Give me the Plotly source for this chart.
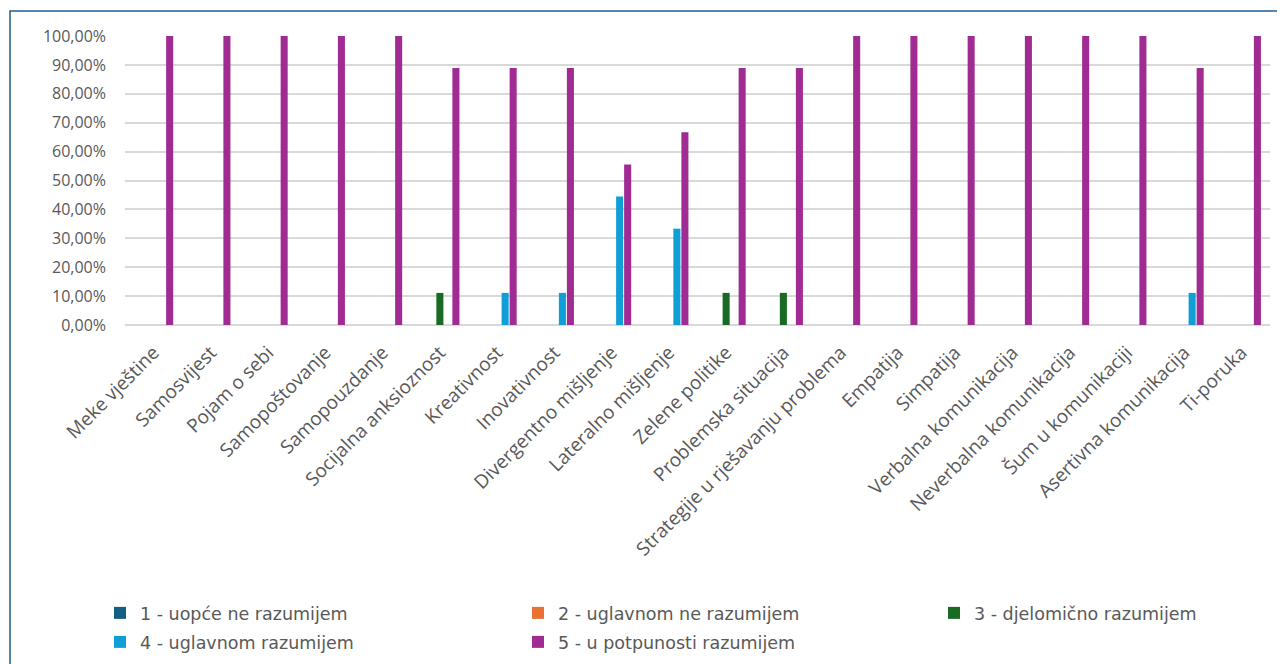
import plotly.graph_objects as go

categories = ["Meke vještine", "Samosvijest", "Pojam o sebi", "Samopoštovanje", "Samopouzdanje",
              "Socijalna anksioznost", "Kreativnost", "Inovativnost", "Divergentno mišljenje",
              "Lateralno mišljenje", "Zelene politike", "Problemska situacija",
              "Strategije u rješavanju problema", "Empatija", "Simpatija", "Verbalna komunikacija",
              "Neverbalna komunikacija", "Šum u komunikaciji", "Asertivna komunikacija", "Ti-poruka"]

series_names = ["1 - uopće ne razumijem", "2 - uglavnom ne razumijem", "3 - djelomično razumijem",
                "4 - uglavnom razumijem", "5 - u potpunosti razumijem"]

s1 = [0]*20
s2 = [0]*20
s3 = [0, 0, 0, 0, 0, 0.1111, 0, 0, 0, 0, 0.1111, 0.1111, 0, 0, 0, 0, 0, 0, 0, 0]
s4 = [0, 0, 0, 0, 0, 0, 0.1111, 0.1111, 0.4444, 0.3333, 0, 0, 0, 0, 0, 0, 0, 0, 0.1111, 0]
s5 = [1, 1, 1, 1, 1, 0.8889, 0.8889, 0.8889, 0.5556, 0.6667, 0.8889, 0.8889,
      1, 1, 1, 1, 1, 1, 0.8889, 1]

colors = ["#156082", "#E97132", "#196B24", "#0F9ED5", "#A02B93"]

# page body has an 8px margin, so the figure is offset by 8px on screen
OFF = 8
W, H = 1285, 664
PL, PT, PW, PH = 125, 36, 1145, 289  # plot area in screen pixels
L, T = PL - OFF, PT - OFF
R = W - L - PW
B = H - T - PH


def px(x):
    return (x - PL) / PW


def py(y):
    return (PT + PH - y) / PH


# legend slots (screen px): column x, row top y
legend_pos = [(100, 595), (518, 595), (934, 595), (100, 624), (518, 624)]
legend_ids = ["legend", "legend2", "legend3", "legend4", "legend5"]

fig = go.Figure()
for name, vals, col, lg in zip(series_names, [s1, s2, s3, s4, s5], colors, legend_ids):
    fig.add_trace(go.Bar(x=categories, y=vals, name=name, legend=lg,
                         marker=dict(color=col, line=dict(width=0))))

legend_font = dict(family="DejaVu Sans", size=17.5, color="#595959")

legends = {}
for lg, (lx, ly) in zip(legend_ids, legend_pos):
    legends[lg] = dict(orientation="v", x=px(lx), xanchor="left", y=py(ly), yanchor="top",
                       font=legend_font, bgcolor="rgba(0,0,0,0)")

fig.update_layout(
    width=W, height=H,
    margin=dict(l=L, r=R, t=T, b=B, autoexpand=False),
    paper_bgcolor="white", plot_bgcolor="white",
    barmode="group", bargap=0.30, bargroupgap=0.12,
    separators=",.",
    font=dict(family="Open Sans", color="#595959"),
    xaxis=dict(tickangle=-45, tickfont=dict(family="Open Sans", size=19, color="#595959"),
               showgrid=False, showline=False, ticks="outside", ticklen=8,
               tickcolor="rgba(0,0,0,0)", automargin=False),
    yaxis=dict(range=[0, 1], tickformat=".2%", dtick=0.1, tickfont=dict(size=16, color="#595959"),
               gridcolor="#D9D9D9", gridwidth=1.5, zeroline=True, zerolinecolor="#D9D9D9",
               zerolinewidth=1.5, ticklabelstandoff=18, automargin=False),
    showlegend=True,
    shapes=[dict(type="rect", xref="paper", yref="paper",
                 x0=px(10), x1=px(1320), y0=py(700), y1=py(11),
                 line=dict(color="#1F5F94", width=1.5), fillcolor="rgba(0,0,0,0)", layer="above")],
    **legends,
)

fig.write_html("out.html")
